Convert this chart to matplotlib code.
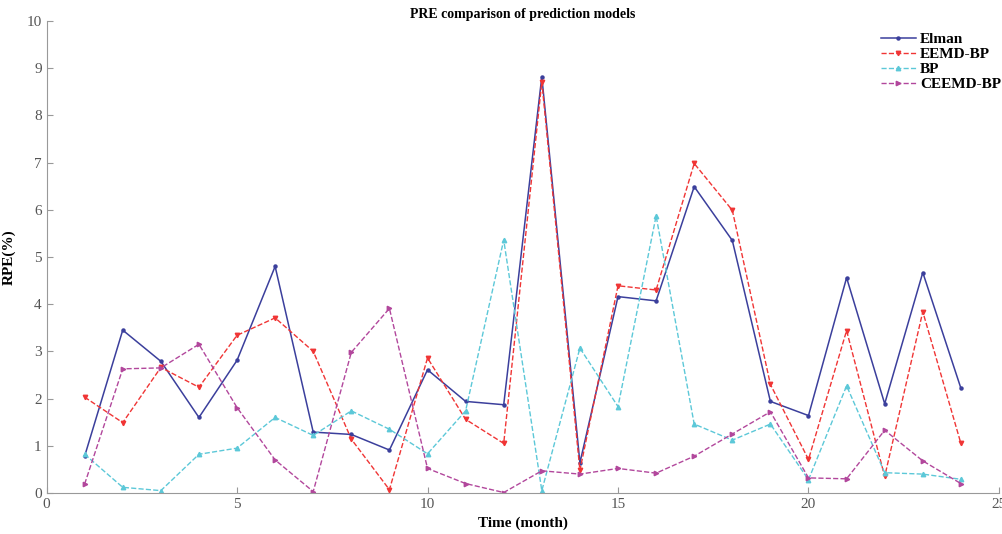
import matplotlib
matplotlib.use("Agg")
import matplotlib.pyplot as plt

# Daten
months = list(range(1, 25))
elman = [0.78, 3.45, 2.79, 1.60, 2.81, 4.80, 1.29, 1.24, 0.91, 2.61, 1.94, 1.87,
         8.82, 0.64, 4.16, 4.07, 6.49, 5.35, 1.94, 1.64, 4.56, 1.89, 4.67, 2.22]
eemd_bp = [2.03, 1.49, 2.66, 2.24, 3.34, 3.71, 3.00, 1.14, 0.07, 2.86, 1.56, 1.05,
           8.71, 0.48, 4.39, 4.30, 6.98, 5.99, 2.30, 0.71, 3.44, 0.35, 3.84, 1.05]
bp = [0.82, 0.12, 0.05, 0.82, 0.95, 1.60, 1.22, 1.74, 1.35, 0.83, 1.74, 5.36,
      0.05, 3.07, 1.83, 5.87, 1.46, 1.12, 1.46, 0.28, 2.27, 0.43, 0.40, 0.29]
ceemd_bp = [0.19, 2.63, 2.65, 3.15, 1.81, 0.70, 0.03, 2.98, 3.91, 0.52, 0.20, 0.01,
            0.47, 0.40, 0.52, 0.42, 0.78, 1.25, 1.72, 0.32, 0.30, 1.33, 0.68, 0.20]

plt.rcParams["font.family"] = ["Liberation Serif", "DejaVu Serif"]

fig = plt.figure(figsize=(10.03, 5.34), dpi=100)
ax = fig.add_axes([0.0464, 0.0768, 0.9496, 0.884])

ax.plot(months, elman, "-", color="#3b3f9c", lw=1.1, marker="o", ms=2.2, label="Elman")
ax.plot(months, eemd_bp, "--", color="#f03535", lw=1.0, marker="v", ms=3.2, label="EEMD-BP")
ax.plot(months, bp, "--", color="#5cc8d8", lw=1.0, marker="^", ms=3.2, label="BP")
ax.plot(months, ceemd_bp, "--", color="#b2479c", lw=1.0, marker=">", ms=3.2, label="CEEMD-BP")

ax.set_xlim(0, 25)
ax.set_ylim(0, 10)
ax.set_xticks([0, 5, 10, 15, 20, 25])
ax.set_yticks(range(0, 11))
ax.tick_params(direction="in", colors="#999999", labelcolor="#555555", labelsize=11, length=4)
for side in ("top", "right"):
    ax.spines[side].set_visible(False)
for side in ("left", "bottom"):
    ax.spines[side].set_color("#999999")

ax.set_title("PRE comparison of prediction models", fontsize=10, fontweight="bold", pad=1)
ax.set_xlabel("Time (month)", fontsize=11, fontweight="bold", labelpad=4)
ax.set_ylabel("RPE(%)", fontsize=11, fontweight="bold", labelpad=8)

leg = ax.legend(loc="upper right", bbox_to_anchor=(1.012, 0.995), frameon=False,
                prop={"weight": "bold", "size": 11}, handlelength=2.3,
                handletextpad=0.3, labelspacing=0.08, borderaxespad=0.2)

fig.savefig("out.png", dpi=100)
